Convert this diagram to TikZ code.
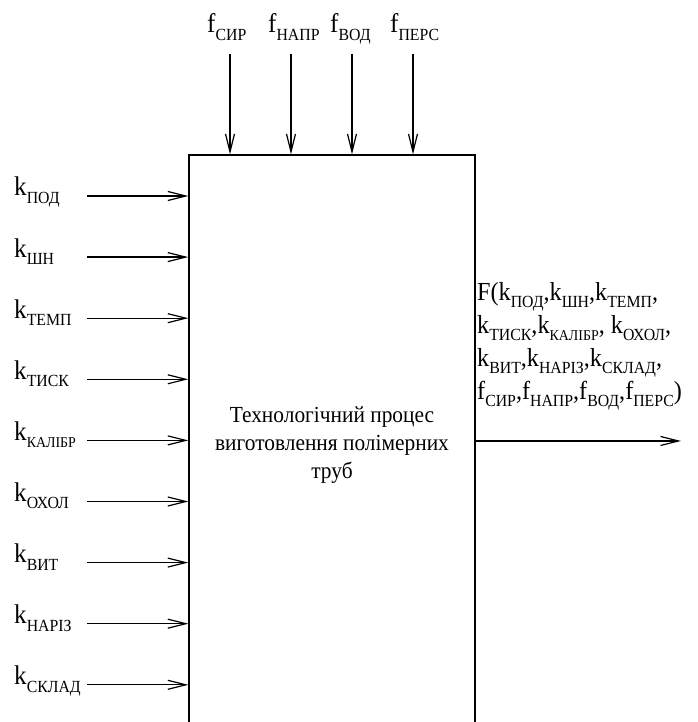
\documentclass[tikz,border=0pt]{standalone}
\usepackage{fontspec}
\IfFontExistsTF{LiberationSerif-Regular.ttf}
  {\setmainfont{LiberationSerif-Regular.ttf}[FakeStretch=0.93]}
  {\setmainfont{Liberation Serif}[FakeStretch=0.93]}
\usetikzlibrary{arrows.meta}
\newcommand{\sbs}[1]{\raisebox{-7.5pt}{\fontsize{17pt}{17pt}\selectfont #1}}
\newcommand{\sbsm}[1]{\raisebox{-7.5pt}{\fontsize{15pt}{15pt}\selectfont #1}}
\tikzset{
  flow/.style={line width=1.2pt, -{Straight Barb[length=18pt,width=9pt,line width=1.2pt]}},
  lbl/.style={inner sep=0pt, anchor=base west, font=\fontsize{27pt}{33pt}\selectfont},
  procbox/.style={draw, line width=1.4pt, rectangle, inner sep=0pt, minimum width=286pt, minimum height=600pt},
}
\begin{document}
\begin{tikzpicture}[x=1pt,y=1pt]
\useasboundingbox (0,0) rectangle (697,722);
% process box (bottom edge lies below the picture)
\node[procbox] (box) at (332,267) {};
\node[inner sep=0pt, align=center, font=\fontsize{23pt}{28pt}\selectfont] (txt) at (332,277)
  {Технологічний процес\\виготовлення полімерних\\труб};
% top inputs
\node[lbl] (fs) at (207,689) {f\sbs{СИР}};
\node[lbl] (fn) at (268,689) {f\sbs{НАПР}};
\node[lbl] (fv) at (330,689) {f\sbs{ВОД}};
\node[lbl] (fp) at (390,689) {f\sbs{ПЕРС}};
\coordinate (t1) at (230,668);
\coordinate (t2) at (291,668);
\coordinate (t3) at (352,668);
\coordinate (t4) at (413,668);
\foreach \c in {t1,t2,t3,t4} \draw[flow] (\c) -- (\c |- box.north);
% left inputs
\foreach \n/\y/\s in {1/526/\sbs{ПОД},2/464.9/\sbs{ШН},3/403.8/\sbs{ТЕМП},4/342.7/\sbs{ТИСК},5/281.6/\sbsm{КАЛІБР},6/220.5/\sbs{ОХОЛ},7/159.4/\sbs{ВИТ},8/98.3/\sbs{НАРІЗ},9/37.2/\sbs{СКЛАД}}{
  \node[lbl] (k\n) at (14,\y) {k\s};
  \coordinate (l\n) at (87,\y);
  \draw[flow] (l\n) -- (l\n -| box.west);
}
% output
\coordinate (out) at (681,281);
\draw[flow] (box.east |- out) -- (out);
\node[inner sep=0pt, anchor=north west, align=left, font=\fontsize{26pt}{33pt}\selectfont] (res) at (477,440)
  {F(k\sbs{ПОД},k\sbs{ШН},k\sbs{ТЕМП},\\
   k\sbs{ТИСК},k\sbsm{КАЛІБР}, k\sbs{ОХОЛ},\\
   k\sbs{ВИТ},k\sbs{НАРІЗ},k\sbs{СКЛАД},\\
   f\sbs{СИР},f\sbs{НАПР},f\sbs{ВОД},f\sbs{ПЕРС})};
\end{tikzpicture}
\end{document}
